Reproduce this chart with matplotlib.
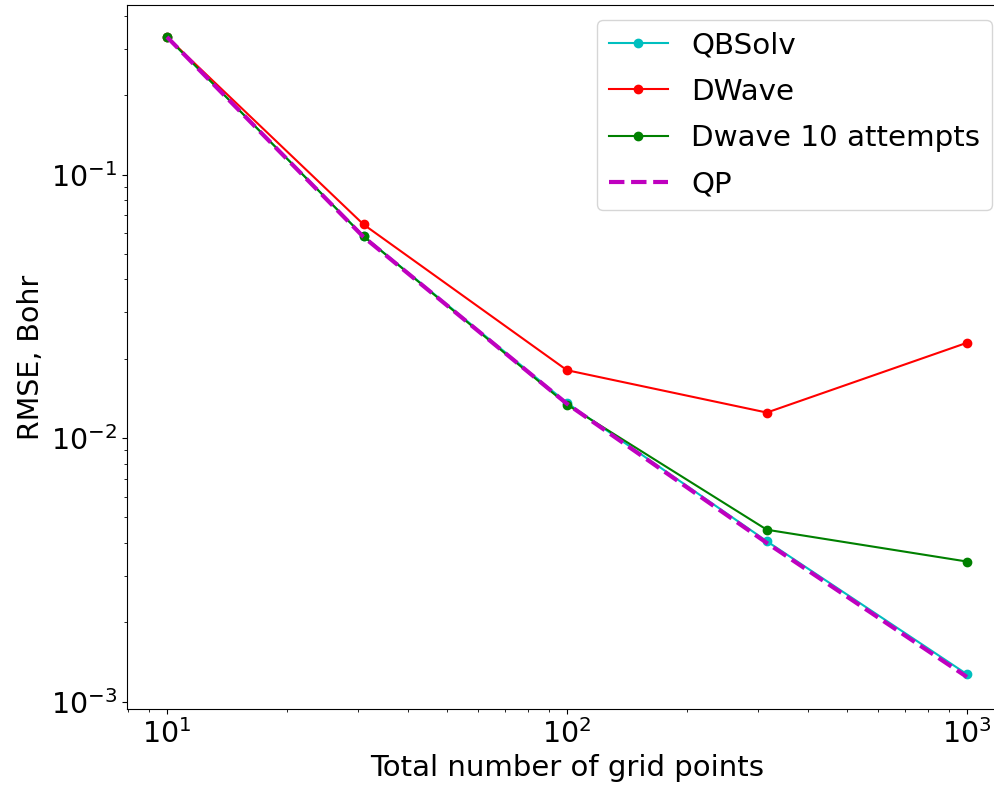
import matplotlib
matplotlib.use("Agg")
import matplotlib.pyplot as plt

# grid sizes
n_points = [10, 31, 100, 316, 1000]

# RMSE (Bohr) per solver
rmse_qbsolv = [0.333, 0.0584, 0.0136, 0.00406, 0.00127]
rmse_dwave = [0.333, 0.0647, 0.0181, 0.0125, 0.0230]
rmse_dwave10 = [0.333, 0.0584, 0.0134, 0.00449, 0.00340]
rmse_qp = [0.333, 0.0580, 0.0135, 0.00400, 0.00124]

fig = plt.figure(figsize=(9.95, 7.86), dpi=100)
ax = fig.add_axes([0.1276, 0.098, 0.8844, 0.8957])

ax.loglog(n_points, rmse_qbsolv, 'c', marker='o', ms=6, lw=1.5, label='QBSolv')
ax.loglog(n_points, rmse_dwave, 'r', marker='o', ms=6, lw=1.5, label='DWave')
ax.loglog(n_points, rmse_dwave10, 'g', marker='o', ms=6, lw=1.5, label='Dwave 10 attempts')
ax.loglog(n_points, rmse_qp, 'm--', lw=3, label='QP')

ax.spines['right'].set_visible(False)

ax.set_xlabel('Total number of grid points', fontsize=21)
ax.set_ylabel('RMSE, Bohr', fontsize=20.5)
ax.tick_params(axis='both', which='major', labelsize=20.5)
ax.legend(loc='upper right', fontsize=21.2, labelspacing=0.62)

fig.savefig('out.png', dpi=100)
